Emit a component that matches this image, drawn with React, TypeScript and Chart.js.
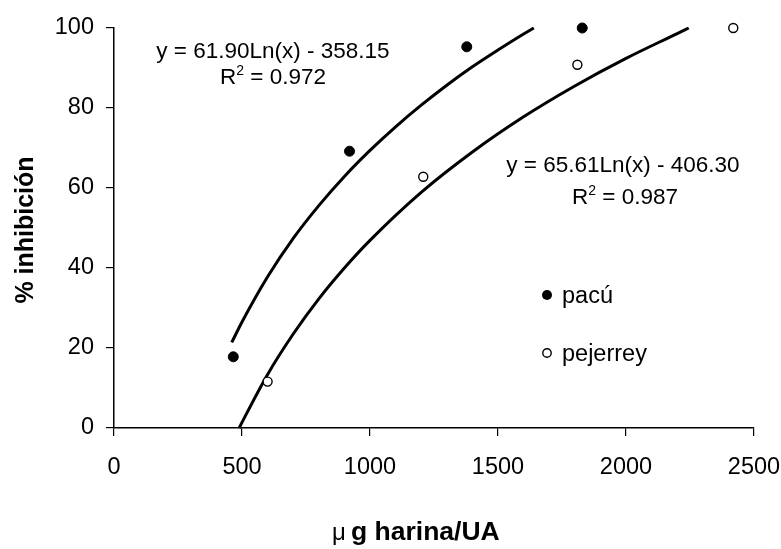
import React, { useEffect, useRef } from "react";
import { Chart, registerables } from "chart.js";

Chart.register(...registerables);

// Axis ranges / ticks
const xMin = 0;
const xMax = 2500;
const xStep = 500;
const yMin = 0;
const yMax = 100;
const yStep = 20;

// Observed points
const pacuX = [466, 920, 1378, 1829];
const pacuY = [17.8, 69.2, 95.3, 100];
const pejerreyX = [600, 1208, 1810, 2419];
const pejerreyY = [11.6, 62.8, 90.8, 100];

// Trend lines
const pacuTrendX = [460, 500, 600, 700, 800, 900, 1000, 1100, 1200, 1300, 1400, 1500, 1600, 1640];
const pacuTrendY = [21.4, 26.5, 37.8, 47.4, 55.6, 62.9, 69.4, 75.3, 80.7, 85.7, 90.3, 94.5, 98.5, 100];
const pejTrendX = [489, 500, 600, 700, 800, 900, 1000, 1200, 1400, 1600, 1800, 2000, 2200, 2245];
const pejTrendY = [0, 1.4, 13.4, 23.5, 32.3, 40.0, 46.9, 58.9, 69.0, 77.8, 85.5, 92.4, 98.6, 100];

// Texts
const seriesNames = ["pacú", "pejerrey"];
const eqTexts = ["y = 61.90Ln(x) - 358.15", "y = 65.61Ln(x) - 406.30"];
const r2Values = ["0.972", "0.987"];
const yTitle = "% inhibición";
const xTitleMu = "μ";
const xTitleRest = "g harina/UA";

const FONT = "'Liberation Sans', Arial, sans-serif";

const zip = (xs: number[], ys: number[]) => xs.map((x, i) => ({ x, y: ys[i] }));

const annotations = {
  id: "annotations",
  afterDraw(chart: any) {
    const ctx = chart.ctx as CanvasRenderingContext2D;
    ctx.save();
    ctx.fillStyle = "#000";
    ctx.textBaseline = "alphabetic";

    const drawR2 = (cx: number, base: number, val: string) => {
      const a = "R";
      const b = " = " + val;
      ctx.font = `22.5px ${FONT}`;
      const wa = ctx.measureText(a).width;
      const wb = ctx.measureText(b).width;
      ctx.font = `14px ${FONT}`;
      const ws = ctx.measureText("2").width;
      const total = wa + ws + wb;
      let x = cx - total / 2;
      ctx.textAlign = "left";
      ctx.font = `22.5px ${FONT}`;
      ctx.fillText(a, x, base);
      x += wa;
      ctx.font = `14px ${FONT}`;
      ctx.fillText("2", x, base - 9);
      x += ws;
      ctx.font = `22.5px ${FONT}`;
      ctx.fillText(b, x, base);
    };

    ctx.textAlign = "center";
    ctx.font = `22.5px ${FONT}`;
    ctx.fillText(eqTexts[0], 273, 58);
    drawR2(273, 84, r2Values[0]);
    ctx.textAlign = "center";
    ctx.font = `22.5px ${FONT}`;
    ctx.fillText(eqTexts[1], 623, 172);
    drawR2(625, 204, r2Values[1]);

    // Legend
    ctx.beginPath();
    ctx.arc(547, 295, 5, 0, Math.PI * 2);
    ctx.fillStyle = "#000";
    ctx.fill();
    ctx.beginPath();
    ctx.arc(547, 353, 4.2, 0, Math.PI * 2);
    ctx.fillStyle = "#fff";
    ctx.fill();
    ctx.lineWidth = 1.4;
    ctx.strokeStyle = "#000";
    ctx.stroke();
    ctx.fillStyle = "#000";
    ctx.textAlign = "left";
    ctx.font = `23.5px ${FONT}`;
    ctx.fillText(seriesNames[0], 562, 303);
    ctx.fillText(seriesNames[1], 562, 361);

    // Y title
    ctx.save();
    ctx.translate(33, 230);
    ctx.rotate(-Math.PI / 2);
    ctx.textAlign = "center";
    ctx.font = `bold 25px ${FONT}`;
    ctx.fillText(yTitle, 0, 0);
    ctx.restore();

    // X title
    ctx.textAlign = "left";
    ctx.font = `24px ${FONT}`;
    ctx.fillText(xTitleMu, 332, 540);
    ctx.font = `bold 26.5px ${FONT}`;
    ctx.fillText(xTitleRest, 351, 540);

    ctx.restore();
  },
};

export default function App() {
  const ref = useRef<HTMLCanvasElement | null>(null);

  useEffect(() => {
    if (!ref.current) return;
    const chart = new Chart(ref.current, {
      type: "scatter",
      data: {
        datasets: [
          {
            label: seriesNames[0],
            data: zip(pacuX, pacuY),
            pointRadius: 5,
            pointBackgroundColor: "#000",
            pointBorderColor: "#000",
            pointBorderWidth: 1,
            showLine: false,
            clip: false,
            order: 0,
          },
          {
            label: seriesNames[1],
            data: zip(pejerreyX, pejerreyY),
            pointRadius: 4.5,
            pointBackgroundColor: "#fff",
            pointBorderColor: "#000",
            pointBorderWidth: 1.4,
            showLine: false,
            clip: false,
            order: 0,
          },
          {
            label: "trend pacú",
            data: zip(pacuTrendX, pacuTrendY),
            showLine: true,
            pointRadius: 0,
            borderColor: "#000",
            borderWidth: 3,
            cubicInterpolationMode: "monotone",
            clip: false,
            order: 1,
          },
          {
            label: "trend pejerrey",
            data: zip(pejTrendX, pejTrendY),
            showLine: true,
            pointRadius: 0,
            borderColor: "#000",
            borderWidth: 3,
            cubicInterpolationMode: "monotone",
            clip: false,
            order: 1,
          },
        ],
      },
      options: {
        responsive: false,
        animation: false,
        events: [],
        layout: { padding: { left: 0, right: 27, top: 28, bottom: 0 } },
        plugins: {
          legend: { display: false },
          tooltip: { enabled: false },
        },
        scales: {
          x: {
            type: "linear",
            min: xMin,
            max: xMax,
            ticks: {
              stepSize: xStep,
              color: "#000",
              font: { family: FONT, size: 23.5 },
              padding: 17,
              maxRotation: 0,
              callback: (v: any) => String(v),
            },
            grid: {
              drawOnChartArea: false,
              drawTicks: true,
              tickLength: 8,
              color: "#000",
              lineWidth: 1.2,
            },
            border: { color: "#000", width: 1.5 },
            afterFit: (s: any) => {
              s.height = 121;
              s.paddingLeft = 0;
              s.paddingRight = 0;
            },
          },
          y: {
            type: "linear",
            min: yMin,
            max: yMax,
            ticks: {
              stepSize: yStep,
              color: "#000",
              font: { family: FONT, size: 23.5 },
              padding: 12,
              callback: (v: any) => String(v),
            },
            grid: {
              drawOnChartArea: false,
              drawTicks: true,
              tickLength: 8,
              color: "#000",
              lineWidth: 1.2,
            },
            border: { color: "#000", width: 1.5 },
            afterFit: (s: any) => {
              s.width = 114;
              s.paddingTop = 0;
              s.paddingBottom = 0;
            },
          },
        },
      },
      plugins: [annotations],
    });
    return () => chart.destroy();
  }, []);

  return (
    <div style={{ position: "absolute", left: 0, top: 0, width: 781, height: 549, background: "#fff" }}>
      <canvas ref={ref} width={781} height={549} style={{ display: "block" }} />
    </div>
  );
}
